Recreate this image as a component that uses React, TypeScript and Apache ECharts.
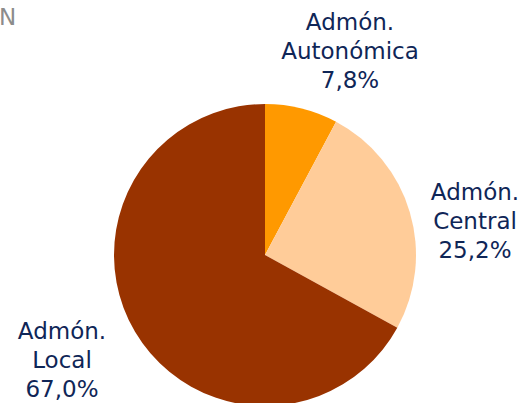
import React, { useEffect, useRef } from "react";
import * as echarts from "echarts";

const categories = ["Admón.\nAutonómica", "Admón.\nCentral", "Admón.\nLocal"];
const shares = [7.8, 25.2, 67.0];
const colors = ["#FF9900", "#FFCC99", "#993300"];
const labelSpots = [
  [350, 51],
  [475, 221],
  [62, 360],
];

export default function App() {
  const ref = useRef<HTMLDivElement>(null);
  useEffect(() => {
    document.body.style.margin = "0";
    const chart = echarts.init(ref.current!, null, { renderer: "svg" });
    chart.setOption({
      animation: false,
      backgroundColor: "#ffffff",
      graphic: [
        {
          type: "text",
          left: -1,
          top: 5,
          style: {
            text: "N",
            fill: "#8c8c8c",
            font: "23px 'DejaVu Sans'",
          },
        },
      ],
      series: [
        {
          type: "pie",
          center: [265, 255],
          radius: 151,
          startAngle: 90,
          clockwise: true,
          data: categories.map((c, i) => ({
            name: c,
            value: shares[i],
            itemStyle: { color: colors[i] },
          })),
          label: {
            show: true,
            position: "outside",
            color: "#0f2657",
            fontFamily: "DejaVu Sans",
            fontSize: 23,
            lineHeight: 29,
            align: "center",
            overflow: "none",
            width: 300,
            formatter: (p: any) =>
              p.name + "\n" + p.value.toFixed(1).replace(".", ",") + "%",
          },
          labelLine: { show: false },
          labelLayout: (params: any) => {
            const s = labelSpots[params.dataIndex];
            return { x: s[0], y: s[1], align: "center", verticalAlign: "middle" };
          },
          emphasis: { disabled: true },
        },
      ],
    });
    return () => chart.dispose();
  }, []);
  return (
    <div
      ref={ref}
      style={{ position: "absolute", left: 0, top: 0, width: 523, height: 403 }}
    />
  );
}
